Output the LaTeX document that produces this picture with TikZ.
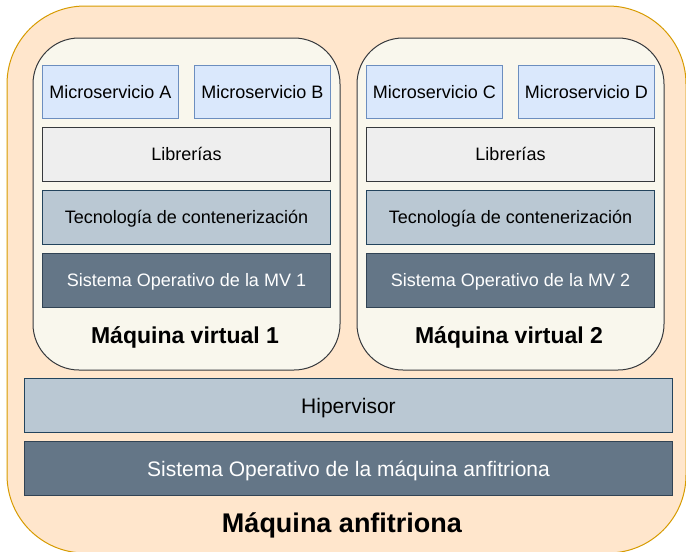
\documentclass[tikz,border=0pt]{standalone}
\usepackage{fontspec}
\setmainfont{Liberation Sans}
\definecolor{hostfill}{HTML}{FFE6CC}
\definecolor{hostdraw}{HTML}{D79B00}
\definecolor{vmfill}{HTML}{F9F7ED}
\definecolor{vmdraw}{HTML}{36393D}
\definecolor{msfill}{HTML}{DAE8FC}
\definecolor{msdraw}{HTML}{6C8EBF}
\definecolor{libfill}{HTML}{EEEEEE}
\definecolor{libdraw}{HTML}{36393D}
\definecolor{tecfill}{HTML}{BAC8D3}
\definecolor{tecdraw}{HTML}{23445D}
\definecolor{sofill}{HTML}{647687}
\definecolor{sodraw}{HTML}{314354}
\tikzset{
  layer/.style={draw, line width=1pt, inner sep=0pt, anchor=north west,
    font=\fontsize{18}{22}\selectfont, text=black, text height=12.9pt, text depth=0pt},
  msbox/.style={layer, fill=msfill, draw=msdraw, minimum width=136pt, minimum height=53pt},
  wide/.style={layer, minimum width=288pt, minimum height=54pt},
  libbox/.style={wide, fill=libfill, draw=libdraw},
  tecbox/.style={wide, fill=tecfill, draw=tecdraw},
  sobox/.style={wide, fill=sofill, draw=sodraw, text=white},
  hostlayer/.style={layer, minimum width=648pt, minimum height=54pt,
    font=\fontsize{21}{25}\selectfont, text height=15pt},
  vmlabel/.style={font=\bfseries\fontsize{23}{27}\selectfont, inner sep=0pt,
    text height=16.5pt, text depth=0pt},
  hostlabel/.style={vmlabel, font=\bfseries\fontsize{27}{31}\selectfont, text height=19.4pt},
}
\begin{document}
\begin{tikzpicture}[x=1pt,y=-1pt]
\useasboundingbox (0,0) rectangle (686,552);
\begin{scope}
\clip (0,0) rectangle (686,552);
\draw[fill=hostfill, draw=hostdraw, line width=1pt, rounded corners=78pt] (7,6) rectangle (686,553);
\end{scope}
% VMs
\draw[fill=vmfill, draw=vmdraw, line width=1pt, rounded corners=46pt] (33,38) rectangle (340,370);
\draw[fill=vmfill, draw=vmdraw, line width=1pt, rounded corners=46pt] (357,38) rectangle (664,370);
% VM1
\node[msbox] (msA) at (42,65) {Microservicio A};
\node[msbox] (msB) at (194,65) {Microservicio B};
\node[libbox] (lib1) at (42,127) {Librerías};
\node[tecbox] (tec1) at (42,190) {Tecnología de contenerización};
\node[sobox] (so1) at (42,253) {Sistema Operativo de la MV 1};
\node[vmlabel] (vm1) at (185,335) {Máquina virtual 1};
% VM2
\node[msbox] (msC) at (366,65) {Microservicio C};
\node[msbox] (msD) at (518,65) {Microservicio D};
\node[libbox] (lib2) at (366,127) {Librerías};
\node[tecbox] (tec2) at (366,190) {Tecnología de contenerización};
\node[sobox] (so2) at (366,253) {Sistema Operativo de la MV 2};
\node[vmlabel] (vm2) at (509,335) {Máquina virtual 2};
% host
\node[hostlayer, fill=tecfill, draw=tecdraw] (hyp) at (24,378) {Hipervisor};
\node[hostlayer, fill=sofill, draw=sodraw, text=white] (hso) at (24,441) {Sistema Operativo de la máquina anfitriona};
\node[hostlabel] (host) at (342,523) {Máquina anfitriona};
\end{tikzpicture}
\end{document}
